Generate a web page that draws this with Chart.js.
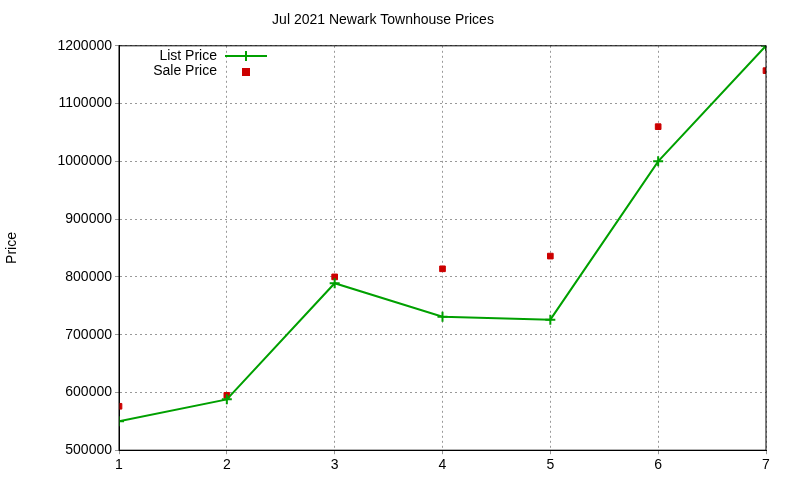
<!DOCTYPE html>
<html lang="en">
<head>
<meta charset="UTF-8">
<title>Jul 2021 Newark Townhouse Prices</title>
<script src="https://cdn.jsdelivr.net/npm/chart.js"></script>
<style>
  body { margin: 0; background: white; }
  #wrap { width: 800px; height: 480px; }
</style>
</head>
<body>
<div id="wrap"><canvas id="chart" width="800" height="480"></canvas></div>
<script>
const xValues = [1, 2, 3, 4, 5, 6, 7];
const listPrice = [550000, 588000, 789000, 731000, 726000, 1000000, 1200000];
const salePrice = [576000, 595000, 800000, 814000, 836000, 1060000, 1157000];

function pts(ys) { return xValues.map((x, i) => ({ x: x, y: ys[i] })); }

// legend drawn inside the plot, top-left like the original
const innerLegend = {
  id: 'innerLegend',
  afterDraw(chart) {
    const ctx = chart.ctx;
    ctx.save();
    ctx.font = '14px "Liberation Sans", Arial, sans-serif';
    ctx.textAlign = 'right';
    ctx.textBaseline = 'middle';
    ctx.fillStyle = '#000';
    ctx.fillText('List Price', 217, 56);
    ctx.fillText('Sale Price', 217, 71);
    ctx.strokeStyle = '#00a000';
    ctx.lineWidth = 2;
    ctx.beginPath();
    ctx.moveTo(225, 56); ctx.lineTo(267, 56);
    ctx.moveTo(246, 51); ctx.lineTo(246, 61);
    ctx.stroke();
    ctx.fillStyle = '#cc0000';
    ctx.fillRect(242, 68, 8, 8);
    ctx.restore();
  }
};

new Chart(document.getElementById('chart'), {
  type: 'scatter',
  data: {
    datasets: [
      {
        label: 'List Price',
        data: pts(listPrice),
        showLine: true,
        borderColor: '#00a000',
        backgroundColor: '#00a000',
        borderWidth: 2,
        pointStyle: 'cross',
        pointRadius: 5,
        pointBorderWidth: 2
      },
      {
        label: 'Sale Price',
        data: pts(salePrice),
        showLine: false,
        borderColor: '#cc0000',
        backgroundColor: '#cc0000',
        pointStyle: 'rect',
        pointRadius: 4
      }
    ]
  },
  options: {
    responsive: false,
    animation: false,
    layout: { padding: { left: 0, right: 34, top: 0, bottom: 3 } },
    plugins: {
      legend: { display: false },
      tooltip: { enabled: false },
      title: {
        display: true,
        text: 'Jul 2021 Newark Townhouse Prices',
        color: '#000',
        font: { family: '"Liberation Sans", Arial, sans-serif', size: 14, weight: 'normal' },
        padding: { top: 12, bottom: 17 }
      }
    },
    scales: {
      x: {
        type: 'linear',
        min: 1, max: 7,
        ticks: { stepSize: 1, color: '#000', font: { family: '"Liberation Sans", Arial', size: 14 } },
        grid: { color: '#999', tickLength: 4 },
        border: { color: '#000', dash: [2, 3] }
      },
      y: {
        min: 500000, max: 1200000,
        afterFit(scale) { scale.width = 119; },
        title: { display: true, text: 'Price', color: '#000', font: { family: '"Liberation Sans", Arial', size: 14 } },
        ticks: { stepSize: 100000, color: '#000', font: { family: '"Liberation Sans", Arial', size: 14 },
                 callback: v => String(v) },
        grid: { color: '#999', tickLength: 4 },
        border: { color: '#000', dash: [2, 3] }
      }
    }
  },
  plugins: [innerLegend, {
    id: 'frame',
    afterDraw(chart) {
      const a = chart.chartArea, ctx = chart.ctx;
      ctx.save();
      ctx.strokeStyle = '#000';
      ctx.lineWidth = 1;
      ctx.strokeRect(a.left, a.top, a.right - a.left, a.bottom - a.top);
      ctx.restore();
    }
  }]
});
</script>
</body>
</html>
